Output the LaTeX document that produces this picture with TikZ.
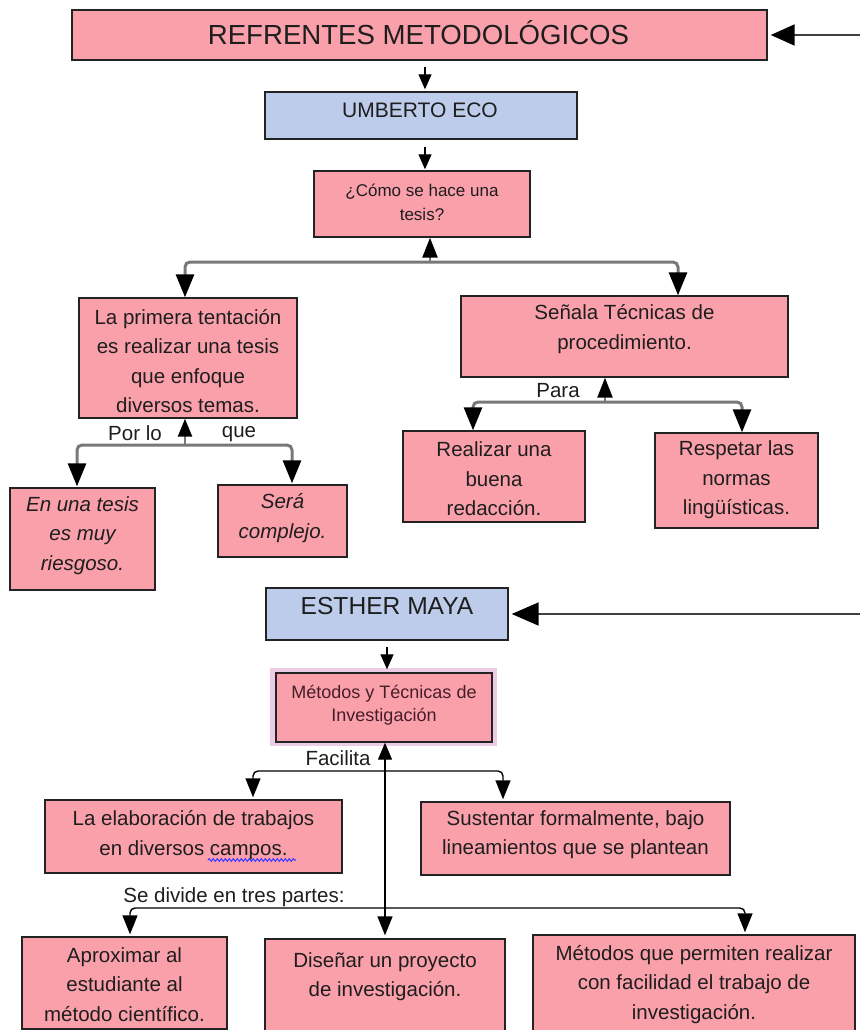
\documentclass[tikz,border=0pt]{standalone}
\usepackage{fontspec}
\setmainfont{Liberation Sans}
\usetikzlibrary{arrows.meta,decorations.pathmorphing}
\definecolor{boxpink}{RGB}{250,160,171}
\definecolor{boxblue}{RGB}{188,204,234}
\definecolor{edge}{RGB}{35,35,35}
\definecolor{halo}{RGB}{236,204,228}
\definecolor{ink}{RGB}{30,30,30}
\definecolor{maroonink}{RGB}{70,30,40}
\definecolor{branchgray}{RGB}{120,120,120}
\begin{document}
\begin{tikzpicture}[x=1pt,y=-1pt,
  pinkbox/.style={draw=edge, line width=1.4pt, fill=boxpink, inner sep=0pt, rectangle},
  bluebox/.style={pinkbox, fill=boxblue},
  txt/.style={text=ink, align=center, inner sep=0pt, font=\fontsize{20.5}{29.5}\selectfont},
  itxt/.style={txt, font=\fontsize{20.5}{29.5}\selectfont\itshape},
  lbl/.style={txt},
  thinarrow/.style={draw=black, line width=1.3pt, -{Triangle[width=13pt,length=15pt]}},
  bigarrow/.style={draw=black!75, line width=2pt, -{Triangle[width=21pt,length=24pt,color=black]}},
  branch/.style={draw=branchgray, line width=3pt, rounded corners=5pt,
    -{Triangle[width=18pt,length=23pt,color=black]}},
  upbranch/.style={draw=branchgray, line width=2.5pt,
    -{Triangle[width=15pt,length=20pt,color=black]}},
  blackbranch/.style={draw=black, line width=1.4pt, rounded corners=5pt,
    -{Triangle[width=15pt,length=19pt]}},
]
\useasboundingbox (0,0) rectangle (860,1030);
\clip (0,0) rectangle (860,1030);
\fill[white] (0,0) rectangle (860,1030);

% ---------- Umberto Eco branch ----------
\node[pinkbox, minimum width=695pt, minimum height=50pt] (A) at (419.5,35) {};
\node[txt, font=\fontsize{27.6}{30}\selectfont] (A-t) at (418.5,33) {REFRENTES METODOLÓGICOS};

\node[bluebox, minimum width=312pt, minimum height=47pt] (B) at (421,115.5) {};
\node[txt, font=\fontsize{21}{24}\selectfont] (B-t) at (420,110) {UMBERTO ECO};

\node[pinkbox, minimum width=216pt, minimum height=66pt] (C) at (422,204) {};
\node[txt, font=\fontsize{17}{24}\selectfont] (C-t) at (422,202) {¿Cómo se hace una\\tesis?};

\node[pinkbox, minimum width=218pt, minimum height=120pt] (D) at (188,358) {};
\node[txt] (D-t) at (188,361) {La primera tentación\\es realizar una tesis\\que enfoque\\diversos temas.};

\node[pinkbox, minimum width=327pt, minimum height=81pt] (E) at (624.5,336.5) {};
\node[txt] (E-t) at (624.5,329) {Señala Técnicas de\\procedimiento.};

\node[pinkbox, minimum width=182pt, minimum height=91pt] (F) at (494,476.5) {};
\node[txt] (F-t) at (494,479) {Realizar una\\buena\\redacción.};

\node[pinkbox, minimum width=163pt, minimum height=95pt] (G) at (736.5,480.5) {};
\node[txt] (G-t) at (736.5,480) {Respetar las\\normas\\lingüísticas.};

\node[pinkbox, minimum width=145pt, minimum height=102pt] (H) at (82.5,539) {};
\node[itxt] (H-t) at (82.5,535.5) {En una tesis\\es muy\\riesgoso.};

\node[pinkbox, minimum width=129pt, minimum height=72pt] (I) at (282.5,521) {};
\node[itxt] (I-t) at (282.5,518) {Será\\complejo.};

% ---------- Esther Maya branch ----------
\node[bluebox, minimum width=242pt, minimum height=52pt] (J) at (387,614) {};
\node[txt, font=\fontsize{24.6}{28}\selectfont] (J-t) at (387,606) {ESTHER MAYA};

\fill[halo] (270,668) rectangle (497,746);
\node[pinkbox, minimum width=216pt, minimum height=69pt] (K) at (384,707.5) {};
\node[txt, text=maroonink, font=\fontsize{18}{23}\selectfont] (K-t) at (384,705.5) {Métodos y Técnicas de\\Investigación};

\node[pinkbox, minimum width=297pt, minimum height=73pt] (L) at (193.5,836.5) {};
\node[txt] (L-t) at (193.5,835) {La elaboración de trabajos\\en diversos campos.};
\draw[draw=blue!75!white, line width=1.1pt, decorate,
  decoration={snake, amplitude=1.3pt, segment length=4pt}] (208,860) -- (296,860);

\node[pinkbox, minimum width=309pt, minimum height=73pt] (M) at (575.5,838.5) {};
\node[txt] (M-t) at (575.5,834.5) {Sustentar formalmente, bajo\\lineamientos que se plantean};

\node[pinkbox, minimum width=205pt, minimum height=92pt] (N) at (124.5,983) {};
\node[txt] (N-t) at (124.5,984.5) {Aproximar al\\estudiante al\\método científico.};

\node[pinkbox, minimum width=240pt, minimum height=106pt] (O) at (385,992) {};
\node[txt] (O-t) at (385,976.5) {Diseñar un proyecto\\de investigación.};

\node[pinkbox, minimum width=322pt, minimum height=110pt] (P) at (694,990) {};
\node[txt] (P-t) at (694,984.5) {Métodos que permiten realizar\\con facilidad el trabajo de\\investigación.};

% ---------- connector labels ----------
\node[lbl] (porlo) at (135,433) {Por lo};
\node[lbl] (que) at (239,434) {que};
\node[lbl] (para) at (558,391) {Para};
\node[lbl] (facilita) at (338,758) {Facilita};
\node[lbl] (divide) at (234,897) {Se divide en tres partes:};

% ---------- connectors ----------
\coordinate (inA) at (860,35);
\draw[bigarrow, shorten >=3pt] (inA) -- (A.east);
\draw[thinarrow, shorten <=6pt, shorten >=2pt] ([xshift=4pt]B.north |- A.south) -- ([xshift=4pt]B.north);
\draw[thinarrow, shorten <=7pt, shorten >=1pt] ([xshift=3pt]C.north |- B.south) -- ([xshift=3pt]C.north);

\coordinate (j1) at (430,262);
\draw[upbranch] (j1) -- (j1 |- C.south);
\draw[branch] (j1) -| ([xshift=-3pt]D.north);
\draw[branch, shorten >=0pt] (j1) -| ([xshift=53.5pt]E.north);

\coordinate (j2) at (185,445);
\draw[upbranch, -{Triangle[width=14pt,length=18pt,color=black]}] (j2) -- (j2 |- D.south);
\draw[branch, shorten >=1pt] (j2) -| ([xshift=-5.5pt]H.north);
\draw[branch, shorten >=1pt] (j2) -| ([xshift=9.5pt]I.north);

\coordinate (j3) at (605,402);
\draw[upbranch] (j3) -- (j3 |- E.south);
\draw[branch] (j3) -| ([xshift=-21pt]F.north);
\draw[branch] (j3) -| ([xshift=5.5pt]G.north);

\coordinate (inJ) at (860,614);
\draw[bigarrow, -{Triangle[width=23pt,length=27pt,color=black]}, shorten >=3pt] (inJ) -- (J.east);
\draw[thinarrow, shorten <=6pt, shorten >=3pt] (J.south) -- (J.south |- K.north);

\coordinate (j4) at (385,771);
\coordinate (j5) at (385,908);
\draw[thinarrow, -{Triangle[width=14pt,length=17pt]}] (j4) -- (j4 |- K.south);
\draw[blackbranch, shorten >=2pt] (j4) -| ([xshift=59.5pt]L.north);
\draw[blackbranch, shorten >=2pt] (j4) -| ([xshift=-72.5pt]M.north);
\draw[blackbranch, shorten >=3pt] (j4) -- (j5) -- (O.north);
\draw[blackbranch, shorten >=2pt] (j5) -| ([xshift=5.5pt]N.north);
\draw[blackbranch, shorten >=2pt] (j5) -| ([xshift=51pt]P.north);
\end{tikzpicture}
\end{document}
